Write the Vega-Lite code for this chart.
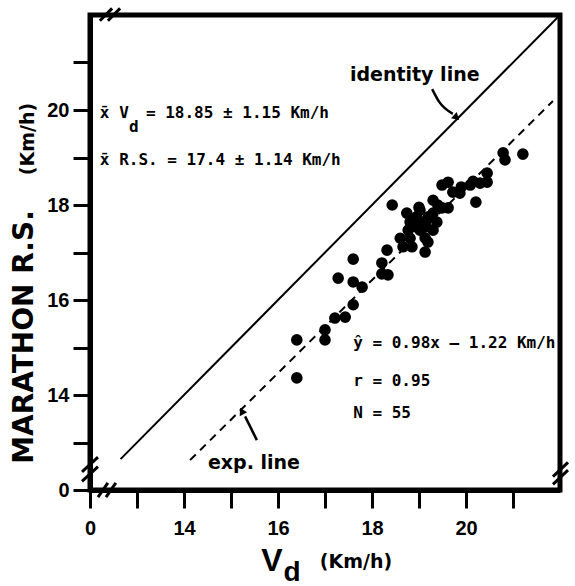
{
  "$schema": "https://vega.github.io/schema/vega-lite/v6.json",
  "width": 470,
  "height": 475,
  "autosize": "none",
  "padding": {"left": 90, "top": 15, "right": 15, "bottom": 96},
  "background": "white",
  "config": {
    "view": {"stroke": "black", "strokeWidth": 5},
    "axis": {
      "grid": false,
      "title": null,
      "domainColor": "black",
      "domainWidth": 5,
      "tickColor": "black",
      "tickWidth": 3,
      "labelColor": "black",
      "labelFont": "Liberation Sans",
      "labelFontWeight": "bold",
      "labelFontSize": 20,
      "labelOverlap": false,
      "labelFlush": false
    }
  },
  "datasets": {
    "points": [
      {"x": 16.40, "y": 15.16}, {"x": 16.40, "y": 14.36}, {"x": 17.00, "y": 15.37}, {"x": 17.00, "y": 15.16},
      {"x": 17.21, "y": 15.62}, {"x": 17.43, "y": 15.64}, {"x": 17.60, "y": 15.90}, {"x": 17.28, "y": 16.46},
      {"x": 17.60, "y": 16.86}, {"x": 17.60, "y": 16.38}, {"x": 17.79, "y": 16.27}, {"x": 18.21, "y": 16.78},
      {"x": 18.21, "y": 16.55}, {"x": 18.34, "y": 16.53}, {"x": 18.32, "y": 17.05}, {"x": 18.43, "y": 18.00},
      {"x": 18.60, "y": 17.30}, {"x": 18.81, "y": 17.30}, {"x": 18.66, "y": 17.12}, {"x": 18.85, "y": 17.12},
      {"x": 19.19, "y": 17.22}, {"x": 19.13, "y": 17.01}, {"x": 18.74, "y": 17.83}, {"x": 19.02, "y": 17.89},
      {"x": 19.30, "y": 17.83}, {"x": 18.81, "y": 17.64}, {"x": 19.09, "y": 17.64}, {"x": 19.38, "y": 17.64},
      {"x": 18.77, "y": 17.47}, {"x": 19.02, "y": 17.47}, {"x": 19.30, "y": 17.47}, {"x": 19.13, "y": 17.31},
      {"x": 19.30, "y": 18.10}, {"x": 19.49, "y": 17.94}, {"x": 19.62, "y": 17.94}, {"x": 19.62, "y": 18.48},
      {"x": 19.49, "y": 18.42}, {"x": 19.72, "y": 18.27}, {"x": 19.87, "y": 18.25}, {"x": 19.90, "y": 18.38},
      {"x": 20.09, "y": 18.42}, {"x": 20.30, "y": 18.46}, {"x": 20.45, "y": 18.48}, {"x": 20.45, "y": 18.67},
      {"x": 20.21, "y": 18.06}, {"x": 20.79, "y": 19.10}, {"x": 20.83, "y": 18.95}, {"x": 21.21, "y": 19.07},
      {"x": 18.95, "y": 17.75}, {"x": 19.20, "y": 17.75}, {"x": 18.90, "y": 17.55}, {"x": 19.15, "y": 17.55},
      {"x": 19.40, "y": 18.00}, {"x": 20.15, "y": 18.50}, {"x": 19.00, "y": 17.95}
    ],
    "identity": [{"x": 12.65, "y": 12.65}, {"x": 22.0, "y": 22.0}],
    "expline": [{"x": 14.13, "y": 12.63}, {"x": 21.85, "y": 20.19}],
    "arrows": [
      {"arrow": "identity", "o": 1, "x": 19.28, "y": 20.44},
      {"arrow": "identity", "o": 2, "x": 19.43, "y": 20.17},
      {"arrow": "identity", "o": 3, "x": 19.72, "y": 19.92},
      {"arrow": "exp", "o": 1, "x": 15.55, "y": 13.05},
      {"arrow": "exp", "o": 2, "x": 15.30, "y": 13.55}
    ],
    "heads": [
      {"x": 19.78, "y": 19.86, "dir": 132},
      {"x": 15.24, "y": 13.64, "dir": 332}
    ],
    "breaks": [
      {"x": 12.21, "y": 21.88, "x2": 12.47, "y2": 22.14},
      {"x": 12.38, "y": 21.88, "x2": 12.64, "y2": 22.14},
      {"x": 11.83, "y": 12.38, "x2": 12.17, "y2": 12.69},
      {"x": 11.83, "y": 12.18, "x2": 12.17, "y2": 12.49},
      {"x": 12.17, "y": 11.85, "x2": 12.38, "y2": 12.15},
      {"x": 12.34, "y": 11.85, "x2": 12.55, "y2": 12.15},
      {"x": 21.85, "y": 12.28, "x2": 22.17, "y2": 12.58},
      {"x": 21.85, "y": 12.12, "x2": 22.17, "y2": 12.42}
    ],
    "mono": [
      {"label": "x̄ V", "x": 12.21, "y": 19.94},
      {"label": "d", "x": 12.83, "y": 19.64},
      {"label": "= 18.85 ± 1.15 Km/h", "x": 13.19, "y": 19.94},
      {"label": "x̄ R.S. = 17.4 ± 1.14 Km/h", "x": 12.21, "y": 18.95},
      {"label": "ŷ = 0.98x – 1.22 Km/h", "x": 17.6, "y": 15.09},
      {"label": "r = 0.95", "x": 17.6, "y": 14.29},
      {"label": "N = 55", "x": 17.6, "y": 13.62}
    ],
    "sans": [
      {"label": "identity line", "x": 17.53, "y": 20.74},
      {"label": "exp. line", "x": 14.51, "y": 12.57}
    ],
    "ytitle": [
      {"label": "MARATHON R.S.", "x": 10.617, "y": 15.22, "size": 28},
      {"label": "(Km/h)", "x": 10.68, "y": 19.39, "size": 19}
    ],
    "xtitle": [
      {"label": "V", "x": 15.87, "y": 10.50, "size": 32},
      {"label": "d", "x": 16.30, "y": 10.25, "size": 28}
    ],
    "xunit": [
      {"label": "(Km/h)", "x": 17.66, "y": 10.48}
    ]
  },
  "encoding": {
    "x": {
      "field": "x", "type": "quantitative",
      "scale": {"domain": [12, 22], "nice": false, "zero": false},
      "axis": {
        "values": [12, 13, 14, 15, 16, 17, 18, 19, 20, 21],
        "labelExpr": "datum.value == 12 ? '0' : (datum.value % 2 == 0 ? datum.label : '')",
        "tickSize": 18,
        "labelPadding": 10
      }
    },
    "y": {
      "field": "y", "type": "quantitative",
      "scale": {"domain": [12, 22], "nice": false, "zero": false},
      "axis": {
        "values": [12, 13, 14, 15, 16, 17, 18, 19, 20, 21],
        "labelExpr": "datum.value == 12 ? '0' : (datum.value % 2 == 0 ? datum.label : '')",
        "tickSize": 17,
        "labelPadding": 4
      }
    }
  },
  "layer": [
    {
      "data": {"name": "identity"},
      "mark": {"type": "line", "color": "black", "strokeWidth": 2}
    },
    {
      "data": {"name": "expline"},
      "mark": {"type": "line", "color": "black", "strokeWidth": 2, "strokeDash": [8, 6]}
    },
    {
      "data": {"name": "points"},
      "mark": {"type": "point", "shape": "circle", "filled": true, "color": "black", "opacity": 1, "size": 135}
    },
    {
      "data": {"name": "arrows"},
      "mark": {"type": "line", "color": "black", "strokeWidth": 2.5, "interpolate": "monotone"},
      "encoding": {"detail": {"field": "arrow"}, "order": {"field": "o"}}
    },
    {
      "data": {"name": "heads"},
      "mark": {"type": "point", "shape": "triangle", "filled": true, "color": "black", "opacity": 1, "size": 70},
      "encoding": {"angle": {"field": "dir", "type": "quantitative", "scale": null}}
    },
    {
      "data": {"name": "breaks"},
      "mark": {"type": "rule", "color": "black", "strokeWidth": 3},
      "encoding": {"x2": {"field": "x2"}, "y2": {"field": "y2"}}
    },
    {
      "data": {"name": "mono"},
      "mark": {"type": "text", "font": "DejaVu Sans Mono", "fontWeight": "bold", "fontSize": 16, "align": "left", "baseline": "middle", "color": "black"},
      "encoding": {"text": {"field": "label"}}
    },
    {
      "data": {"name": "sans"},
      "mark": {"type": "text", "font": "DejaVu Sans", "fontWeight": "bold", "fontSize": 19, "align": "left", "baseline": "middle", "color": "black"},
      "encoding": {"text": {"field": "label"}}
    },
    {
      "data": {"name": "ytitle"},
      "mark": {"type": "text", "font": "DejaVu Sans", "fontWeight": "bold", "angle": 270, "align": "center", "baseline": "middle", "color": "black"},
      "encoding": {"text": {"field": "label"}, "size": {"field": "size", "type": "quantitative", "scale": null}}
    },
    {
      "data": {"name": "xtitle"},
      "mark": {"type": "text", "font": "Liberation Sans", "fontWeight": "bold", "align": "center", "baseline": "middle", "color": "black"},
      "encoding": {"text": {"field": "label"}, "size": {"field": "size", "type": "quantitative", "scale": null}}
    },
    {
      "data": {"name": "xunit"},
      "mark": {"type": "text", "font": "DejaVu Sans", "fontWeight": "bold", "fontSize": 19, "align": "center", "baseline": "middle", "color": "black"},
      "encoding": {"text": {"field": "label"}}
    }
  ]
}
